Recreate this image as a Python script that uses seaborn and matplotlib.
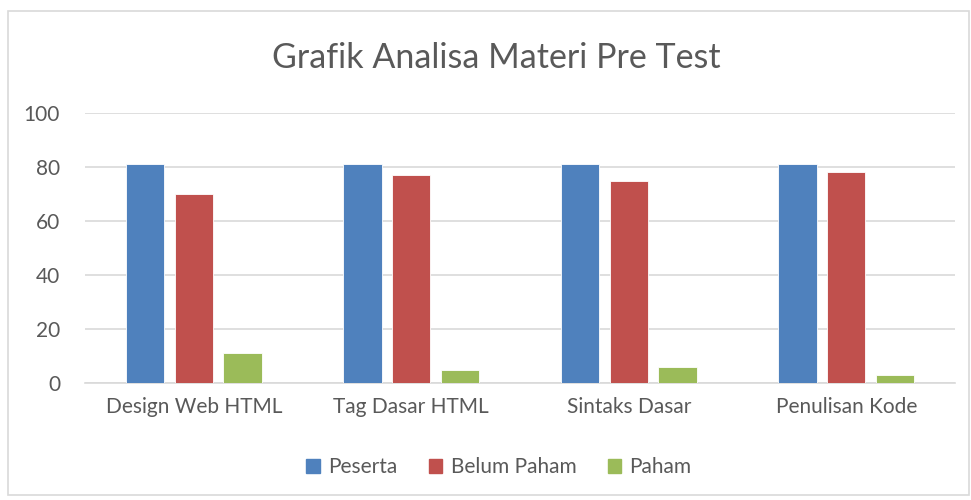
import pandas as pd
import matplotlib
matplotlib.use("Agg")
import matplotlib.pyplot as plt
import seaborn as sns
from matplotlib.patches import Rectangle

# data
categories = ["Design Web HTML", "Tag Dasar HTML", "Sintaks Dasar", "Penulisan Kode"]
series = ["Peserta", "Belum Paham", "Paham"]
peserta = [81, 81, 81, 81]
belum_paham = [70, 77, 75, 78]
paham = [11, 5, 6, 3]
colors = ["#4F81BD", "#C0504D", "#9BBB59"]

df = pd.DataFrame({
    "kategori": categories * 3,
    "seri": [s for s in series for _ in categories],
    "nilai": peserta + belum_paham + paham,
})

sns.set_style("white")
plt.rcParams["font.family"] = ["Lato", "DejaVu Sans"]
text_color = "#595959"

fig = plt.figure(figsize=(9.71, 5.0), dpi=100)
ax = fig.add_axes([85 / 971, 1 - 383 / 500, 870 / 971, 270 / 500])

sns.barplot(data=df, x="kategori", y="nilai", hue="seri", palette=colors,
            width=0.67, gap=0.21, saturation=1, ax=ax, legend=False,
            edgecolor="white", linewidth=0.6, zorder=3)

ax.set_ylim(0, 100)
ax.set_xlim(-0.5, 3.5)
ax.set_yticks(range(0, 101, 20))
ax.yaxis.grid(True, color="#D9D9D9", linewidth=1.2, zorder=0)
ax.set_axisbelow(True)
for side in ["top", "right", "left"]:
    ax.spines[side].set_visible(False)
ax.spines["bottom"].set_color("#D9D9D9")
ax.spines["bottom"].set_linewidth(1.2)
ax.tick_params(axis="both", length=0, labelsize=15, colors=text_color)
ax.tick_params(axis="x", pad=10)
ax.tick_params(axis="y", pad=18)
ax.set_xlabel("")
ax.set_ylabel("")

fig.text(496 / 971, 1 - 58 / 500, "Grafik Analisa Materi Pre Test", ha="center",
         va="center", fontsize=24.5, color=text_color)

handles = [Rectangle((0, 0), 1, 1, color=c) for c in colors]
fig.legend(handles, series, loc="center", bbox_to_anchor=(499 / 971, 1 - 467 / 500),
           ncol=3, frameon=False, fontsize=15, handlelength=0.65, handleheight=0.65,
           handletextpad=0.4, columnspacing=1.5, labelcolor=text_color)

fig.patches.append(Rectangle((8 / 971, 5 / 500), 961 / 971, 484 / 500,
                             transform=fig.transFigure, fill=False,
                             edgecolor="#D9D9D9", linewidth=1.2))

fig.savefig("out.png", dpi=100, facecolor="white")
